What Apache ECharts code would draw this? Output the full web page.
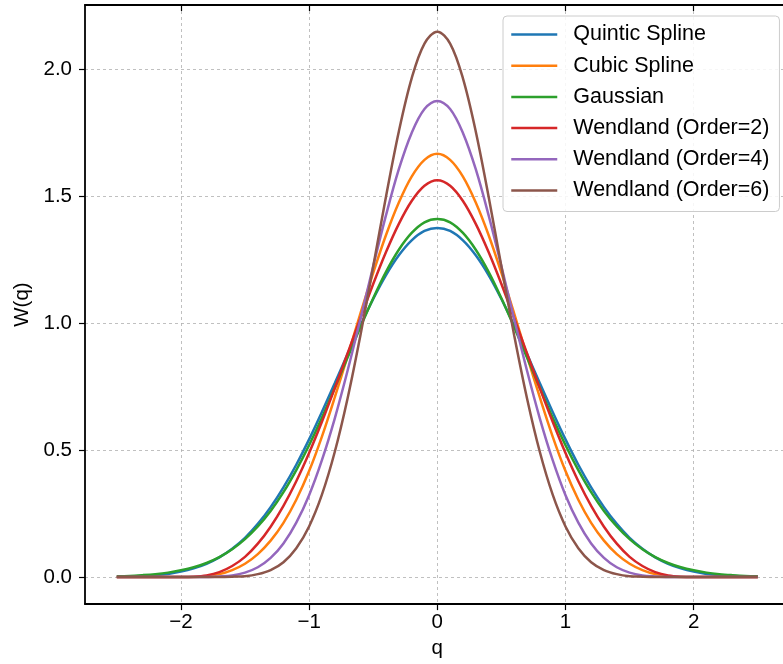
<!DOCTYPE html>
<html>
<head>
<meta charset="utf-8">
<script src="https://cdn.jsdelivr.net/npm/echarts@6/dist/echarts.min.js"></script>
<style>
  html, body { margin: 0; padding: 0; background: #fff; overflow: hidden; }
  #chart { width: 790px; height: 664px; }
</style>
</head>
<body>
<div id="chart"></div>
<script>
// q positions (step 0.1)
const qValues = [-2.5, -2.4, -2.3, -2.2, -2.1, -2.0, -1.9, -1.8, -1.7, -1.6, -1.5, -1.4, -1.3, -1.2, -1.1, -1.0,
  -0.9, -0.8, -0.7, -0.6, -0.5, -0.4, -0.3, -0.2, -0.1, 0.0, 0.1, 0.2, 0.3, 0.4, 0.5, 0.6, 0.7, 0.8, 0.9,
  1.0, 1.1, 1.2, 1.3, 1.4, 1.5, 1.6, 1.7, 1.8, 1.9, 2.0, 2.1, 2.2, 2.3, 2.4, 2.5];

// kernel values
const quinticSpline = [0.001, 0.002, 0.004, 0.007, 0.012, 0.021, 0.034, 0.052, 0.077, 0.111, 0.154, 0.209, 0.275, 0.353, 0.442, 0.542,
  0.650, 0.763, 0.878, 0.990, 1.095, 1.189, 1.267, 1.326, 1.363, 1.375, 1.363, 1.326, 1.267, 1.189, 1.095, 0.990, 0.878, 0.763, 0.650,
  0.542, 0.442, 0.353, 0.275, 0.209, 0.154, 0.111, 0.077, 0.052, 0.034, 0.021, 0.012, 0.007, 0.004, 0.002, 0.001];
const cubicSpline = [0, 0, 0, 0, 0, 0, 0.000, 0.003, 0.011, 0.027, 0.052, 0.090, 0.143, 0.213, 0.304, 0.417,
  0.553, 0.707, 0.870, 1.037, 1.198, 1.347, 1.475, 1.577, 1.643, 1.667, 1.643, 1.577, 1.475, 1.347, 1.198, 1.037, 0.870, 0.707, 0.553,
  0.417, 0.304, 0.213, 0.143, 0.090, 0.052, 0.027, 0.011, 0.003, 0.000, 0, 0, 0, 0, 0, 0];
const gaussian = [0.003, 0.004, 0.007, 0.011, 0.017, 0.026, 0.038, 0.055, 0.078, 0.109, 0.149, 0.199, 0.260, 0.334, 0.421, 0.519,
  0.627, 0.744, 0.864, 0.984, 1.098, 1.202, 1.289, 1.355, 1.397, 1.410, 1.397, 1.355, 1.289, 1.202, 1.098, 0.984, 0.864, 0.744, 0.627,
  0.519, 0.421, 0.334, 0.260, 0.199, 0.149, 0.109, 0.078, 0.055, 0.038, 0.026, 0.017, 0.011, 0.007, 0.004, 0.003];
const wendland2 = [0, 0, 0, 0, 0, 0, 0.001, 0.006, 0.019, 0.043, 0.079, 0.131, 0.198, 0.280, 0.377, 0.488,
  0.611, 0.743, 0.880, 1.018, 1.154, 1.280, 1.391, 1.481, 1.541, 1.563, 1.541, 1.481, 1.391, 1.280, 1.154, 1.018, 0.880, 0.743, 0.611,
  0.488, 0.377, 0.280, 0.198, 0.131, 0.079, 0.043, 0.019, 0.006, 0.001, 0, 0, 0, 0, 0, 0];
const wendland4 = [0, 0, 0, 0, 0, 0, 0, 0.000, 0.002, 0.006, 0.017, 0.038, 0.075, 0.132, 0.214, 0.322,
  0.460, 0.624, 0.812, 1.015, 1.224, 1.425, 1.606, 1.749, 1.843, 1.875, 1.843, 1.749, 1.606, 1.425, 1.224, 1.015, 0.812, 0.624, 0.460,
  0.322, 0.214, 0.132, 0.075, 0.038, 0.017, 0.006, 0.002, 0.000, 0, 0, 0, 0, 0, 0, 0];
const wendland6 = [0, 0, 0, 0, 0, 0, 0, 0, 0.000, 0.001, 0.003, 0.011, 0.027, 0.058, 0.113, 0.199,
  0.324, 0.492, 0.703, 0.951, 1.223, 1.499, 1.755, 1.964, 2.101, 2.148, 2.101, 1.964, 1.755, 1.499, 1.223, 0.951, 0.703, 0.492, 0.324,
  0.199, 0.113, 0.058, 0.027, 0.011, 0.003, 0.001, 0.000, 0, 0, 0, 0, 0, 0, 0, 0];

const xTicks = [-2, -1, 0, 1, 2];
const yTicks = [0, 0.5, 1.0, 1.5, 2.0];

const seriesNames = ['Quintic Spline', 'Cubic Spline', 'Gaussian', 'Wendland (Order=2)', 'Wendland (Order=4)', 'Wendland (Order=6)'];
const seriesData = [quinticSpline, cubicSpline, gaussian, wendland2, wendland4, wendland6];
const colors = ['#1f77b4', '#ff7f0e', '#2ca02c', '#d62728', '#9467bd', '#8c564b'];

const font = '"Liberation Sans", Arial, Helvetica, sans-serif';

// chart div is a bit wider than the window: the right end of the axes is cut off like in the original
const chart = echarts.init(document.getElementById('chart'), null, { renderer: 'canvas' });

const series = seriesNames.map((name, i) => ({
  name: name,
  type: 'line',
  data: qValues.map((q, j) => [q, seriesData[i][j]]),
  symbol: 'none',
  smooth: 0.35,
  lineStyle: { width: 2.5, color: colors[i] },
  itemStyle: { color: colors[i] },
  z: 3 + i
}));

chart.setOption({
  animation: false,
  backgroundColor: '#fff',
  grid: { left: 85, top: 5, width: 704.6, height: 600, containLabel: false },
  legend: {
    orient: 'vertical',
    left: 503,
    top: 16,
    padding: [7.5, 10, 10, 7],
    itemWidth: 46,
    itemHeight: 18,
    itemGap: 9.2,
    backgroundColor: 'rgba(255,255,255,0.85)',
    borderColor: '#cccccc',
    borderWidth: 1,
    borderRadius: 4,
    textStyle: { fontFamily: font, fontSize: 21.5, color: '#000', padding: [0, 0, 0, 11] },
    itemStyle: { opacity: 0 },
    lineStyle: { width: 2.5 },
    data: seriesNames
  },
  xAxis: [{
    type: 'value',
    min: -2.748,
    max: 2.748,
    name: 'q',
    nameLocation: 'middle',
    nameGap: 32,
    nameTextStyle: { fontFamily: font, fontSize: 20.5, color: '#000' },
    axisLine: { onZero: false, lineStyle: { color: '#000', width: 1.8 } },
    axisTick: { show: true, inside: false, length: 6, customValues: xTicks, lineStyle: { color: '#000', width: 1.2 } },
    axisLabel: {
      customValues: xTicks,
      margin: 8,
      fontFamily: font, fontSize: 20.5, color: '#000',
      formatter: (v) => (v < 0 ? '\u2212' + Math.abs(v) : String(v))
    },
    splitLine: { show: true, lineStyle: { color: '#b0b0b0', width: 0.8, type: [3, 3] } }
  }, {
    type: 'value',
    position: 'top',
    min: -2.748,
    max: 2.748,
    axisLine: { onZero: false, lineStyle: { color: '#000', width: 1.8 } },
    axisTick: { show: true, inside: true, length: 6, customValues: xTicks, lineStyle: { color: '#000', width: 1.2 } },
    axisLabel: { show: false },
    splitLine: { show: false }
  }],
  yAxis: {
    type: 'value',
    min: -0.107,
    max: 2.253,
    name: 'W(q)',
    nameLocation: 'middle',
    nameGap: 52,
    nameRotate: 90,
    nameTextStyle: { fontFamily: font, fontSize: 20.5, color: '#000' },
    axisLine: { onZero: false, lineStyle: { color: '#000', width: 1.8 } },
    axisTick: { show: true, inside: false, length: 6, customValues: yTicks, lineStyle: { color: '#000', width: 1.2 } },
    axisLabel: {
      customValues: yTicks,
      margin: 13,
      fontFamily: font, fontSize: 20.5, color: '#000',
      formatter: (v) => v.toFixed(1)
    },
    splitLine: { show: true, lineStyle: { color: '#b0b0b0', width: 0.8, type: [3, 3] } }
  },
  series: series
});
</script>
</body>
</html>
